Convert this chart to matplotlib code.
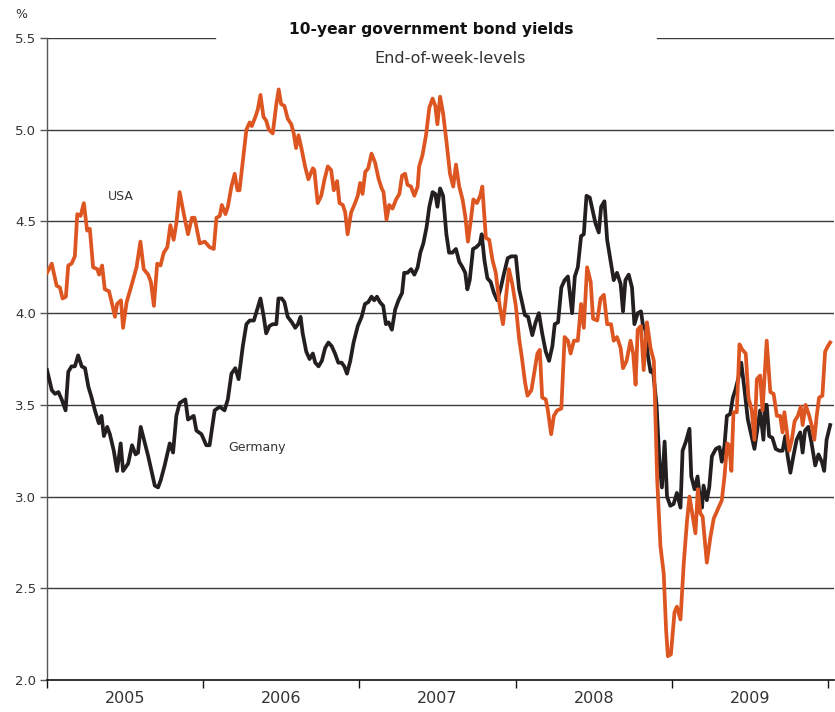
import matplotlib
matplotlib.use('Agg')
import matplotlib.pyplot as plt
import numpy as np

# Weeks since 1 Jan 2005 and end-of-week yields (%)
usa_weeks = [
    0, 1.6, 3.2, 4.3, 5.2, 6.3, 7.1, 8.2, 9.3, 10.1, 11.2, 12.3, 13.4, 14.3,
    15.4, 16.8, 17.4, 18.4, 19.3, 20.7, 21.6, 22.7, 23.4, 24.7, 25.4, 26.6,
    28.2, 29.9, 31.2, 32.3, 33.8, 34.7, 35.7, 36.8, 37.9, 39.0, 40.2, 41.2,
    42.3, 43.2, 44.3, 45.7, 47.1, 48.4, 49.3, 51.0, 52.7, 54.3, 55.7, 56.6,
    57.7, 58.4, 59.6, 60.4, 61.6, 62.7, 63.6, 64.3, 65.4, 66.6, 67.7, 68.4,
    69.6, 70.4, 71.3, 72.3, 73.2, 74.1, 75.4, 76.6, 77.4, 78.2, 79.3, 80.4,
    81.6, 82.4, 83.2, 84.0, 85.1, 86.2, 87.3, 88.8, 89.3, 90.4, 91.6, 92.7,
    93.8, 94.9, 95.8, 96.9, 97.7, 98.8, 99.6, 100.4, 101.6, 102.9, 103.8,
    104.6, 105.4, 106.3, 107.3, 108.4, 109.6, 110.8, 111.8, 112.4, 113.4,
    114.3, 115.4, 116.6, 117.7, 118.6, 119.6, 120.4, 121.6, 122.7, 123.8,
    124.3, 125.4, 126.6, 127.7, 128.8, 129.7, 130.4, 131.3, 132.3, 133.4,
    134.6, 135.7, 136.6, 137.7, 138.8, 139.7, 140.6, 141.6, 142.4, 143.6,
    144.7, 145.4, 146.6, 147.7, 148.8, 149.9, 151.2, 152.3, 153.2, 154.3,
    155.4, 156.6, 157.7, 158.6, 159.7, 160.5, 161.8, 162.9, 163.8, 164.6,
    165.4, 166.6, 167.3, 168.4, 169.3, 170.4, 171.8, 172.9, 174.0, 174.9,
    176.0, 177.3, 178.4, 179.3, 180.4, 181.6, 182.4, 183.8, 184.9, 186.0,
    187.1, 188.4, 189.3, 190.4, 191.6, 192.4, 193.6, 194.9, 195.8, 196.6,
    197.3, 198.4, 199.3, 200.4, 201.6, 202.7, 203.2, 203.8, 204.9, 206.0,
    206.8, 207.4, 208.4, 209.6, 210.4, 211.6, 212.7, 213.8, 214.6, 215.7,
    216.6, 217.4, 218.2, 219.0, 220.4, 221.6, 222.7, 224.3, 225.4, 226.3,
    227.2, 227.9, 228.6, 229.3, 230.4, 231.3, 232.3, 233.4, 234.3, 235.4,
    236.3, 237.1, 238.2, 239.0, 240.4, 241.6, 242.7, 243.8, 244.9, 245.7,
    246.3, 247.1, 247.9, 248.8, 249.7, 250.8, 251.8, 252.4, 253.4, 254.6,
    255.4, 256.3, 257.1, 257.9, 259.0, 259.9, 260.8, 261.6]
usa_yield = [
    4.22, 4.27, 4.15, 4.14, 4.08, 4.09, 4.26, 4.27, 4.31, 4.54, 4.53, 4.60,
    4.45, 4.46, 4.25, 4.24, 4.21, 4.26, 4.13, 4.12, 4.06, 3.98, 4.05, 4.07,
    3.92, 4.06, 4.15, 4.25, 4.39, 4.24, 4.21, 4.17, 4.04, 4.27, 4.26, 4.33,
    4.36, 4.48, 4.40, 4.49, 4.66, 4.54, 4.43, 4.52, 4.52, 4.38, 4.39, 4.36,
    4.35, 4.52, 4.53, 4.59, 4.54, 4.58, 4.69, 4.76, 4.67, 4.67, 4.83, 5.00,
    5.04, 5.02, 5.07, 5.11, 5.19, 5.07, 5.05, 5.00, 4.98, 5.14, 5.22, 5.14,
    5.13, 5.06, 5.03, 4.98, 4.90, 4.97, 4.89, 4.80, 4.73, 4.79, 4.78, 4.60,
    4.64, 4.73, 4.80, 4.78, 4.67, 4.72, 4.60, 4.59, 4.55, 4.43, 4.55, 4.60,
    4.64, 4.71, 4.65, 4.77, 4.79, 4.87, 4.82, 4.73, 4.68, 4.66, 4.51, 4.59,
    4.57, 4.62, 4.65, 4.75, 4.76, 4.70, 4.69, 4.64, 4.69, 4.80, 4.86, 4.97,
    5.12, 5.17, 5.13, 5.03, 5.18, 5.09, 4.94, 4.76, 4.69, 4.81, 4.69, 4.62,
    4.53, 4.39, 4.51, 4.62, 4.60, 4.64, 4.69, 4.41, 4.40, 4.29, 4.22, 4.04,
    3.94, 4.07, 4.24, 4.16, 4.04, 3.86, 3.76, 3.62, 3.55, 3.58, 3.69, 3.78,
    3.80, 3.54, 3.53, 3.47, 3.34, 3.44, 3.47, 3.48, 3.87, 3.85, 3.78, 3.85,
    3.85, 4.05, 3.92, 4.25, 4.17, 3.97, 3.96, 4.08, 4.10, 3.94, 3.94, 3.85,
    3.87, 3.81, 3.70, 3.74, 3.85, 3.78, 3.61, 3.91, 3.93, 3.69, 3.95, 3.81,
    3.74, 3.45, 3.10, 2.73, 2.58, 2.27, 2.13, 2.14, 2.37, 2.40, 2.33, 2.64,
    2.87, 3.00, 2.89, 2.80, 3.04, 2.91, 2.89, 2.64, 2.78, 2.88, 2.94, 2.98,
    3.11, 3.29, 3.28, 3.14, 3.46, 3.46, 3.83, 3.80, 3.78, 3.54, 3.47, 3.31,
    3.64, 3.66, 3.47, 3.85, 3.57, 3.56, 3.44, 3.44, 3.35, 3.46, 3.36, 3.25,
    3.31, 3.41, 3.44, 3.49, 3.39, 3.50, 3.44, 3.39, 3.31, 3.44, 3.54, 3.55,
    3.79, 3.82, 3.84]

ger_weeks = [
    0, 1.6, 2.7, 3.8, 4.9, 6.2, 7.1, 8.2, 9.3, 10.4, 11.6, 12.7, 13.8, 14.9,
    16.0, 17.3, 18.2, 19.0, 20.1, 21.0, 22.3, 23.4, 24.6, 25.4, 27.1, 28.4,
    29.6, 30.4, 31.3, 32.7, 33.8, 34.9, 36.0, 37.1, 38.0, 39.3, 41.0, 42.1,
    43.2, 44.3, 46.2, 47.1, 49.0, 49.9, 51.6, 53.2, 54.3, 56.0, 57.7, 59.3,
    60.4, 61.6, 62.9, 64.0, 65.4, 66.6, 67.7, 69.1, 70.2, 71.3, 72.4, 73.2,
    74.3, 75.4, 76.6, 77.3, 78.4, 79.3, 80.4, 81.8, 82.9, 83.8, 84.7, 85.4,
    86.6, 87.7, 88.8, 89.6, 90.7, 91.8, 92.9, 94.0, 95.1, 96.2, 97.3, 98.4,
    99.3, 100.2, 101.3, 102.4, 103.8, 105.1, 106.2, 107.3, 108.4, 109.3,
    110.2, 111.2, 112.3, 113.2, 114.1, 115.2, 116.3, 117.4, 118.6, 119.3,
    120.4, 121.6, 122.7, 123.8, 124.7, 125.7, 126.8, 127.7, 128.8, 129.7,
    130.4, 131.3, 132.3, 133.4, 134.3, 135.4, 136.6, 137.7, 138.8, 139.7,
    140.4, 141.2, 142.3, 143.4, 144.6, 145.2, 146.1, 147.1, 148.2, 149.3,
    150.4, 151.6, 152.7, 153.9, 155.1, 156.6, 157.7, 158.4, 159.6, 160.7,
    162.1, 163.2, 164.3, 165.4, 166.6, 167.7, 168.8, 169.6, 170.7, 171.8,
    172.9, 174.0, 175.4, 176.3, 177.3, 178.4, 179.3, 180.2, 181.3, 182.1,
    183.2, 184.3, 185.1, 186.2, 187.1, 188.2, 189.3, 190.4, 191.6, 192.4,
    193.2, 194.3, 195.4, 196.2, 197.3, 198.4, 199.1, 199.9, 200.7, 201.6,
    202.4, 203.6, 204.6, 205.4, 206.3, 207.1, 208.2, 209.3, 210.4, 211.6,
    212.3, 213.4, 214.6, 215.2, 216.3, 217.3, 217.9, 218.8, 219.3, 220.4,
    221.2, 222.1, 223.4, 224.6, 225.4, 226.3, 227.1, 228.2, 229.1, 229.9,
    231.0, 231.9, 233.0, 234.1, 235.2, 236.3, 237.4, 238.2, 239.3, 239.9,
    240.4, 241.2, 242.3, 243.4, 244.6, 245.7, 246.6, 247.4, 248.3, 249.3,
    250.4, 251.6, 252.4, 253.2, 254.3, 255.4, 256.6, 257.7, 258.8, 259.6,
    260.4, 261.6]
ger_yield = [
    3.69, 3.58, 3.56, 3.57, 3.53, 3.47, 3.68, 3.71, 3.71, 3.77, 3.71, 3.70,
    3.60, 3.54, 3.47, 3.40, 3.44, 3.33, 3.38, 3.34, 3.25, 3.14, 3.29, 3.14,
    3.18, 3.28, 3.23, 3.24, 3.38, 3.29, 3.22, 3.14, 3.06, 3.05, 3.09, 3.17,
    3.29, 3.24, 3.44, 3.51, 3.53, 3.42, 3.44, 3.36, 3.34, 3.28, 3.28, 3.47,
    3.49, 3.47, 3.53, 3.67, 3.70, 3.64, 3.82, 3.94, 3.96, 3.96, 4.02, 4.08,
    3.98, 3.89, 3.93, 3.94, 3.94, 4.08, 4.08, 4.06, 3.98, 3.95, 3.92, 3.94,
    3.98, 3.89, 3.79, 3.75, 3.78, 3.73, 3.71, 3.74, 3.81, 3.84, 3.82, 3.78,
    3.73, 3.73, 3.71, 3.67, 3.74, 3.84, 3.93, 3.98, 4.05, 4.06, 4.09, 4.07,
    4.09, 4.06, 4.04, 3.94, 3.95, 3.91, 4.02, 4.07, 4.11, 4.22, 4.22, 4.24,
    4.21, 4.25, 4.33, 4.38, 4.47, 4.58, 4.66, 4.65, 4.58, 4.68, 4.64, 4.43,
    4.33, 4.33, 4.35, 4.28, 4.25, 4.22, 4.13, 4.18, 4.35, 4.36, 4.38, 4.43,
    4.29, 4.19, 4.17, 4.11, 4.07, 4.14, 4.22, 4.30, 4.31, 4.31, 4.13, 4.08,
    3.99, 3.98, 3.88, 3.95, 4.00, 3.89, 3.79, 3.74, 3.82, 3.94, 3.95, 4.14,
    4.18, 4.20, 4.00, 4.20, 4.25, 4.42, 4.43, 4.64, 4.63, 4.57, 4.49, 4.44,
    4.58, 4.61, 4.40, 4.29, 4.18, 4.22, 4.16, 4.01, 4.18, 4.21, 4.14, 3.94,
    4.00, 4.01, 3.93, 3.91, 3.77, 3.68, 3.69, 3.50, 3.18, 3.05, 3.30, 3.00,
    2.95, 2.96, 3.02, 2.94, 3.25, 3.30, 3.37, 3.11, 3.04, 3.11, 3.02, 2.94,
    3.06, 2.98, 3.05, 3.22, 3.26, 3.27, 3.19, 3.28, 3.44, 3.45, 3.54, 3.58,
    3.65, 3.73, 3.58, 3.42, 3.34, 3.26, 3.38, 3.47, 3.31, 3.50, 3.50, 3.33,
    3.32, 3.26, 3.25, 3.25, 3.33, 3.22, 3.13, 3.22, 3.31, 3.35, 3.24, 3.36,
    3.38, 3.29, 3.17, 3.23, 3.19, 3.14, 3.31, 3.39]

years = [2005, 2006, 2007, 2008, 2009]
y_ticks = [2.0, 2.5, 3.0, 3.5, 4.0, 4.5, 5.0, 5.5]

ORANGE = '#DD5622'
BLACK = '#231F20'
GRID = '#3a3a3a'
TEXT = '#333333'


def to_year(weeks):
    '''Convert weeks since 1 Jan 2005 into decimal years'''
    return 2005 + np.asarray(weeks) * 7 / 365.25


def bond_yields():
    fig = plt.figure(figsize=(8.35, 7.12), dpi=100)
    ax = fig.add_axes([0.0563, 0.0449, 0.9425, 0.9017])

    ax.set_xlim(2005, 2010.038)
    ax.set_ylim(2.0, 5.5)

    # Horizontal grid; the top one is broken by the title
    for v in y_ticks[1:-1]:
        ax.axhline(v, color=GRID, lw=1.0, zorder=1)
    ax.axhline(5.5, xmin=0, xmax=0.2135, color=GRID, lw=1.0, zorder=1)
    ax.axhline(5.5, xmin=0.775, xmax=1, color=GRID, lw=1.0, zorder=1)

    ax.plot(to_year(ger_weeks), ger_yield, color=BLACK, lw=2.7,
            solid_joinstyle='round', zorder=3)
    ax.plot(to_year(usa_weeks), usa_yield, color=ORANGE, lw=2.7,
            solid_joinstyle='round', zorder=4)

    # Axes styling
    for side in ['top', 'right']:
        ax.spines[side].set_visible(False)
    ax.spines['left'].set_color('#555555')
    ax.spines['left'].set_linewidth(1.0)
    ax.spines['bottom'].set_color('#111111')
    ax.spines['bottom'].set_linewidth(1.2)

    ax.set_yticks(y_ticks)
    ax.set_yticklabels(['%.1f' % v for v in y_ticks])
    ax.tick_params(axis='y', length=5, width=1, color='#555555',
                   labelsize=9.5, labelcolor=TEXT, pad=3)

    ax.set_xticks(years + [2010])
    ax.set_xticklabels([])
    ax.set_xticks([y + 0.5 for y in years], minor=True)
    ax.set_xticklabels([str(y) for y in years], minor=True)
    ax.tick_params(axis='x', which='major', length=6, width=1,
                   color='#111111')
    ax.tick_params(axis='x', which='minor', length=0, labelsize=11.5,
                   labelcolor=TEXT, pad=8)

    # Titles and labels
    fig.text(0.516, 0.958, '10-year government bond yields', ha='center',
             va='center', fontsize=11.2, fontweight='bold', color='#111111')
    fig.text(0.539, 0.9185, 'End-of-week-levels', ha='center', va='center',
             fontsize=11.5, color=TEXT)
    fig.text(0.026, 0.979, '%', ha='center', va='center', fontsize=9,
             color=TEXT)
    ax.text(2005.475, 4.635, 'USA', ha='center', va='center', fontsize=9,
            color=TEXT)
    ax.text(2006.345, 3.27, 'Germany', ha='center', va='center',
            fontsize=9, color=TEXT)

    fig.savefig('out.png', dpi=100)


if __name__ == '__main__':
    bond_yields()
